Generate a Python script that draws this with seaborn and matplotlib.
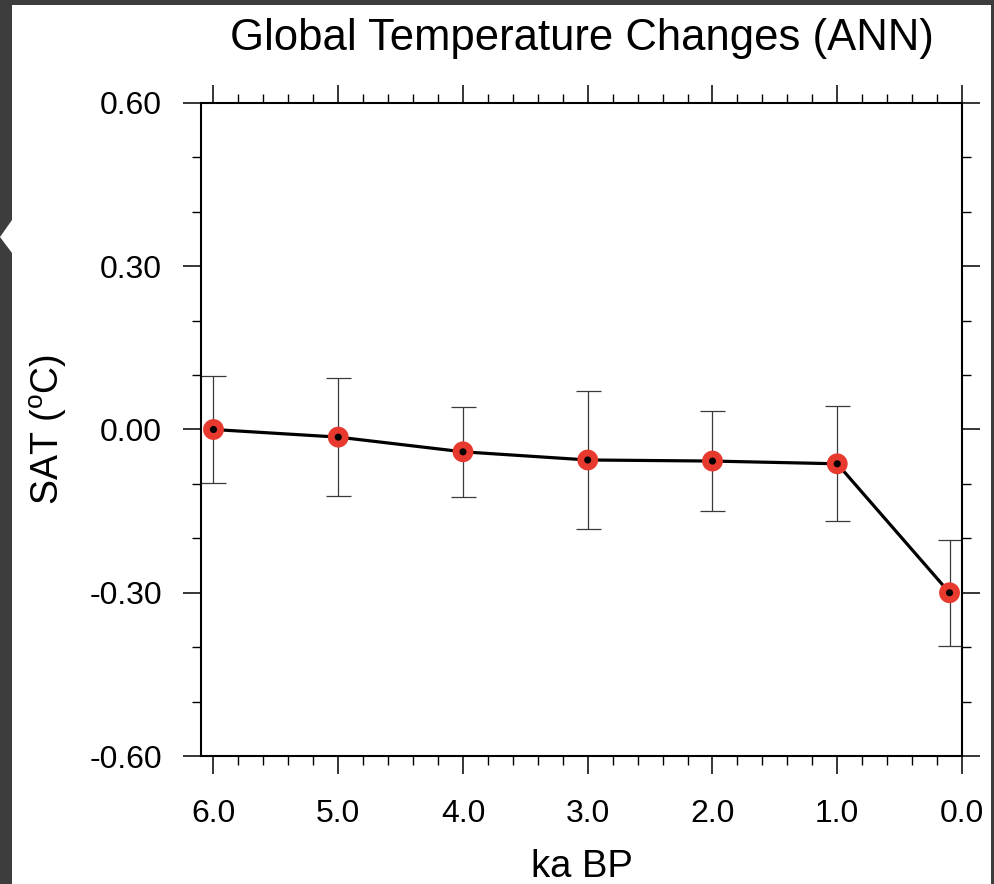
import numpy as np
import pandas as pd
import matplotlib
matplotlib.use('Agg')
import matplotlib.pyplot as plt
import seaborn as sns
from matplotlib.patches import Rectangle, Polygon
from matplotlib.ticker import MultipleLocator, FixedLocator, FixedFormatter

# data
ka_bp = [6.0, 5.0, 4.0, 3.0, 2.0, 1.0, 0.1]
sat = [0.000, -0.014, -0.041, -0.056, -0.058, -0.063, -0.300]
sat_err = [0.098, 0.108, 0.083, 0.127, 0.092, 0.106, 0.097]

x_ticks = [6.0, 5.0, 4.0, 3.0, 2.0, 1.0, 0.0]
x_labels = ['6.0', '5.0', '4.0', '3.0', '2.0', '1.0', '0.0']
y_ticks = [0.60, 0.30, 0.00, -0.30, -0.60]
y_labels = ['0.60', '0.30', '0.00', '-0.30', '-0.60']

df = pd.DataFrame({'ka': ka_bp, 'sat': sat, 'err': sat_err})

sns.set_style('ticks')
plt.rcParams['font.family'] = ['Liberation Sans', 'DejaVu Sans']
plt.rcParams['mathtext.fontset'] = 'custom'
plt.rcParams['mathtext.rm'] = 'Liberation Sans'
plt.rcParams['mathtext.it'] = 'Liberation Sans'
plt.rcParams['text.color'] = 'black'
plt.rcParams['axes.labelcolor'] = 'black'
plt.rcParams['xtick.color'] = 'black'
plt.rcParams['ytick.color'] = 'black'

W, H = 994, 884
fig = plt.figure(figsize=(W / 100, H / 100), dpi=100, facecolor='#3d3d3d')

# white page of the screenshot
fig.patches.append(Rectangle((12 / W, 0), (991 - 12) / W, (H - 5) / H,
                             transform=fig.transFigure, facecolor='white',
                             edgecolor='none', zorder=0))
fig.patches.append(Polygon([(12 / W, 1 - 220 / H), (0, 1 - 237 / H), (12 / W, 1 - 253 / H)],
                           closed=True, transform=fig.transFigure,
                           facecolor='white', edgecolor='none', zorder=0))

ax = fig.add_axes([201 / W, (H - 756) / H, (962 - 201) / W, (756 - 103) / H])
ax.set_zorder(2)
ax.set_facecolor('white')

# error bars
ax.errorbar(df['ka'], df['sat'], yerr=df['err'], fmt='none', ecolor='#3a3a3a',
            elinewidth=0.9, capsize=9, capthick=0.9, zorder=2)

# connecting line
sns.lineplot(data=df, x='ka', y='sat', color='black', lw=2.3, sort=False,
             ax=ax, zorder=3)

# red markers with black centre
sns.scatterplot(data=df, x='ka', y='sat', color='#e8392e', s=225, edgecolor='none',
                linewidth=0, ax=ax, zorder=4)
sns.scatterplot(data=df, x='ka', y='sat', color='black', s=26, edgecolor='none',
                linewidth=0, ax=ax, zorder=5)

ax.set_xlim(6.1, 0.0)
ax.set_ylim(-0.6, 0.6)

ax.xaxis.set_major_locator(FixedLocator(x_ticks))
ax.xaxis.set_major_formatter(FixedFormatter(x_labels))
ax.xaxis.set_minor_locator(MultipleLocator(0.2))
ax.yaxis.set_major_locator(FixedLocator(y_ticks))
ax.yaxis.set_major_formatter(FixedFormatter(y_labels))
ax.yaxis.set_minor_locator(MultipleLocator(0.1))

ax.tick_params(which='both', direction='out', top=True, right=True,
               labeltop=False, labelright=False, color='black')
ax.tick_params(which='major', length=13, width=1.1, labelsize=23)
ax.tick_params(which='minor', length=6.5, width=1.0)
ax.tick_params(axis='x', which='major', pad=18)
ax.tick_params(axis='y', which='major', pad=15)

for sp in ax.spines.values():
    sp.set_visible(True)
    sp.set_linewidth(1.5)
    sp.set_color('black')

ax.set_xlabel('ka BP', fontsize=27.5)
ax.set_ylabel('SAT ($^{o}$C)', fontsize=27)
ax.xaxis.set_label_coords(0.5, -0.142)
ax.yaxis.set_label_coords(-0.174, 0.5)

fig.text(581.5 / W, 1 - 50 / H, 'Global Temperature Changes (ANN)',
         ha='center', va='baseline', fontsize=31.4)

fig.savefig('out.png', dpi=100, facecolor=fig.get_facecolor())
